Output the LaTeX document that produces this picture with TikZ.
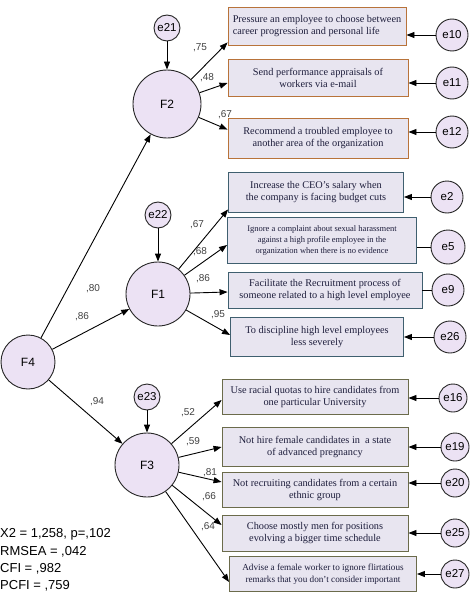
\documentclass[tikz,border=0pt]{standalone}
\usepackage{fontspec}
\setmainfont{Liberation Serif}
\newfontfamily\labfont{Liberation Sans}
\usetikzlibrary{arrows.meta}

\definecolor{circfill}{RGB}{236,226,244}
\definecolor{boxfill}{RGB}{232,229,240}
\definecolor{orangeline}{RGB}{184,115,58}
\definecolor{slateline}{RGB}{63,95,111}
\definecolor{oliveline}{RGB}{107,107,75}
\definecolor{boxtext}{RGB}{30,30,60}

\begin{document}
\begin{tikzpicture}[x=1pt,y=-1pt,
    latent/.style={circle,draw=black!85,line width=0.9pt,fill=circfill,inner sep=0pt,
      font=\labfont\fontsize{12}{12}\selectfont},
    err/.style={latent,font=\labfont\fontsize{11.5}{12}\selectfont},
    indic/.style={rectangle,draw,line width=0.9pt,fill=boxfill,align=center,inner sep=1pt,
      text=boxtext,font=\fontsize{10.3}{12.5}\selectfont},
    small/.style={font=\fontsize{8.5}{11}\selectfont},
    reg/.style={-{Triangle[length=8pt,width=6pt]},line width=0.9pt},
    coef/.style={font=\labfont\fontsize{10}{10}\selectfont,text=black!75,inner sep=0pt},
    fitstat/.style={font=\labfont\fontsize{13}{13}\selectfont,anchor=west,inner sep=0pt}]
  \useasboundingbox (0,0) rectangle (474,602);

  %%latent factors
  \node[latent,minimum size=54pt] (F4) at (28,362) {F4};
  \node[latent,minimum size=68pt] (F2) at (167,104) {F2};
  \node[latent,minimum size=64pt] (F1) at (158,294) {F1};
  \node[latent,minimum size=64pt] (F3) at (147,465) {F3};
  \node[err,minimum size=26pt] (e21) at (167,28) {e21};
  \node[err,minimum size=26pt] (e22) at (158,215) {e22};
  \node[err,minimum size=26pt] (e23) at (147,397) {e23};

  %%F2 items
  \node[indic,draw=orangeline,minimum width=178pt,minimum height=38pt,align=left] (b10) at (317,26)
    {Pressure an employee to choose between\\career progression and personal life};
  \node[indic,draw=orangeline,minimum width=180pt,minimum height=37pt] (b11) at (318,78)
    {Send performance appraisals of\\workers via e-mail};
  \node[indic,draw=orangeline,minimum width=180pt,minimum height=40pt] (b12) at (318,138)
    {Recommend a troubled employee to\\another area of the organization};
  \node[err,minimum size=32pt] (e10) at (452,35) {e10};
  \node[err,minimum size=32pt] (e11) at (452,83) {e11};
  \node[err,minimum size=32pt] (e12) at (452,132) {e12};

  %%F1 items
  \node[indic,draw=slateline,minimum width=175pt,minimum height=40pt] (b2) at (316,192)
    {Increase the CEO's salary when\\the company is facing budget cuts};
  \node[indic,draw=slateline,minimum width=189pt,minimum height=46pt,small] (b5) at (322,240)
    {Ignore a complaint about sexual harassment\\against a high profile employee in the\\organization when there is no evidence};
  \node[indic,draw=slateline,minimum width=194pt,minimum height=36pt] (b9) at (325,290)
    {Facilitate the Recruitment process of\\someone related to a high level employee};
  \node[indic,draw=slateline,minimum width=173pt,minimum height=39pt] (b26) at (317,337)
    {To discipline high level employees\\less severely};
  \node[err,minimum size=32pt] (e2) at (447,197) {e2};
  \node[err,minimum size=34pt] (e5) at (448,247) {e5};
  \node[err,minimum size=32pt] (e9) at (448,290) {e9};
  \node[err,minimum size=32pt] (e26) at (450,337) {e26};

  %%F3 items
  \node[indic,draw=oliveline,minimum width=186pt,minimum height=35pt] (b16) at (315,397)
    {Use racial quotas to hire candidates from\\one particular University};
  \node[indic,draw=oliveline,minimum width=186pt,minimum height=39pt] (b19) at (315,447)
    {Not hire female candidates in\ \ a state\\of advanced pregnancy};
  \node[indic,draw=oliveline,minimum width=186pt,minimum height=35pt] (b20) at (315,490)
    {Not recruiting candidates from a certain\\ethnic group};
  \node[indic,draw=oliveline,minimum width=186pt,minimum height=36pt] (b25) at (315,533)
    {Choose mostly men for positions\\evolving a bigger time schedule};
  \node[indic,draw=oliveline,minimum width=187pt,minimum height=35pt,font=\fontsize{9.2}{12}\selectfont] (b27) at (323,574)
    {Advise a female worker to ignore flirtatious\\remarks that you don't consider important};
  \node[err,minimum size=28pt] (e16) at (453,398) {e16};
  \node[err,minimum size=28pt] (e19) at (455,447) {e19};
  \node[err,minimum size=28pt] (e20) at (455,483) {e20};
  \node[err,minimum size=28pt] (e25) at (455,533) {e25};
  \node[err,minimum size=28pt] (e27) at (455,574) {e27};

  %%second order paths
  \draw[reg] (F4) -- (F2);
  \draw[reg] (F4) -- (F1);
  \draw[reg] (F4) -- (F3);
  \draw[reg] (e21) -- (F2);
  \draw[reg] (e22) -- (F1);
  \draw[reg] (e23) -- (F3);

  %%loadings
  \draw[reg] (F2) -- ([yshift=3pt]b10.south west);
  \draw[reg] (F2) -- ([yshift=-5pt]b11.west);
  \draw[reg] (F2) -- ([yshift=-12pt]b12.north west);
  \draw[reg] (F1) -- ([yshift=3pt]b2.south west);
  \draw[reg] (F1) -- ([yshift=-5pt]b5.west);
  \draw[reg] (F1) -- ([yshift=-2pt]b9.west);
  \draw[reg] (F1) -- ([yshift=2pt]b26.west);
  \draw[reg] (F3) -- ([yshift=-3pt]b16.west);
  \draw[reg] (F3) -- (b19.west);
  \draw[reg] (F3) -- ([yshift=8pt]b20.west);
  \draw[reg] (F3) -- ([yshift=8pt]b25.west);
  \draw[reg] (F3) -- ([yshift=-8pt]b27.west);

  %%errors to items
  \draw[reg] (e10) -- (e10 -| b10.east);
  \draw[reg] (e11) -- (e11 -| b11.east);
  \draw[reg] (e12) -- (e12 -| b12.east);
  \draw[reg] (e2) -- (e2 -| b2.east);
  \draw[line width=0.9pt] (e5) -- (e5 -| b5.east);
  \draw[line width=0.9pt] (e9) -- (e9 -| b9.east);
  \draw[reg] (e26) -- (e26 -| b26.east);
  \draw[reg] (e16) -- (e16 -| b16.east);
  \draw[reg] (e19) -- (e19 -| b19.east);
  \draw[reg] (e20) -- (e20 -| b20.east);
  \draw[reg] (e25) -- (e25 -| b25.east);
  \draw[reg] (e27) -- (e27 -| b27.east);

  %%coefficients
  \node[coef] (c80) at (93,289) {,80};
  \node[coef] (c86) at (82,317) {,86};
  \node[coef] (c94) at (97,402) {,94};
  \node[coef] (c75) at (200,48) {,75};
  \node[coef] (c48) at (207,78) {,48};
  \node[coef] (c67a) at (225,115) {,67};
  \node[coef] (c67b) at (197,225) {,67};
  \node[coef] (c68) at (200,252) {,68};
  \node[coef] (c86b) at (203,279) {,86};
  \node[coef] (c95) at (218,315) {,95};
  \node[coef] (c52) at (188,413) {,52};
  \node[coef] (c59) at (193,442) {,59};
  \node[coef] (c81) at (210,473) {,81};
  \node[coef] (c66) at (209,497) {,66};
  \node[coef] (c64) at (208,527) {,64};

  %%fit
  \node[fitstat] (x2) at (0,534) {X2 = 1,258, p=,102};
  \node[fitstat] (rmsea) at (0,552) {RMSEA = ,042};
  \node[fitstat] (cfi) at (0,569) {CFI = ,982};
  \node[fitstat] (pcfi) at (0,586) {PCFI = ,759};
\end{tikzpicture}
\end{document}
